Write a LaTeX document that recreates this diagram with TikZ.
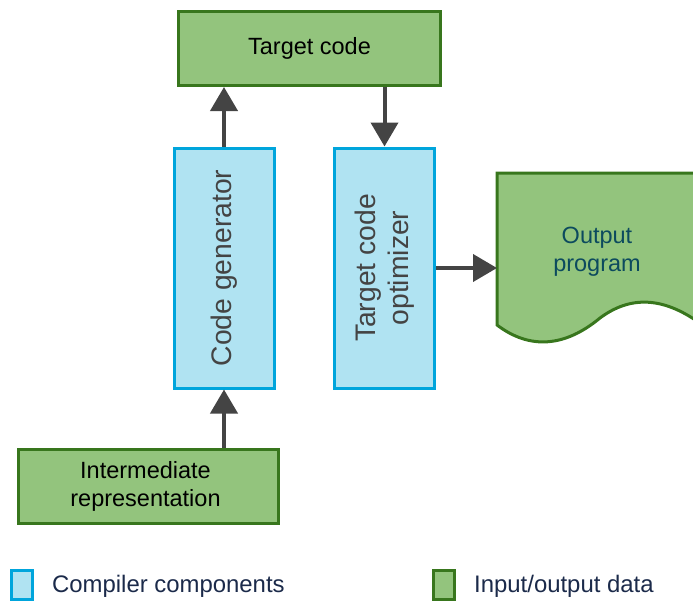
\documentclass[tikz,border=0pt]{standalone}
\usepackage{fontspec}
\setmainfont{Liberation Sans}
\usetikzlibrary{arrows.meta}
\definecolor{iofill}{HTML}{93C47D}
\definecolor{iodraw}{HTML}{38761D}
\definecolor{ccfill}{HTML}{B0E3F2}
\definecolor{ccdraw}{HTML}{00A5DC}
\definecolor{arrowgrey}{HTML}{444444}
\definecolor{legendtext}{HTML}{1B2A4A}
\definecolor{doctext}{HTML}{0C4A5E}
\tikzset{
  iobox/.style={draw=iodraw, fill=iofill, line width=3pt, inner sep=0pt,
    font=\fontsize{23.5}{27.5}\selectfont, text=black, align=center},
  ccbox/.style={draw=ccdraw, fill=ccfill, line width=3pt, inner sep=0pt,
    minimum width=240pt, minimum height=100pt, rotate=90,
    font=\fontsize{28.3}{33}\selectfont, text=arrowgrey, align=center},
  flow/.style={draw=arrowgrey, line width=4pt,
    -{Triangle[width=27pt,length=24pt]}},
  legendkey/.style={line width=3pt, minimum width=21pt, minimum height=29pt,
    inner sep=0pt},
  legendlabel/.style={anchor=west, inner sep=0pt, text=legendtext,
    font=\fontsize{23.9}{28}\selectfont}
}
\begin{document}
\begin{tikzpicture}[x=1pt, y=-1pt]
\useasboundingbox (0,0) rectangle (693,602);
\clip (0,0) rectangle (693,602);

% Target code
\node[iobox, minimum width=262pt, minimum height=74pt] (tc) at (309.5,48.5) {Target code};

% Compiler components (rotated boxes)
\node[ccbox] (cg) at (224,268) {Code generator};
\node[ccbox] (opt) at (384.5,268) {Target code\\optimizer};

% Intermediate representation
\node[iobox, minimum width=260pt, minimum height=74pt] (ir) at (148.5,486.5) {\hspace*{-6pt}Intermediate\\\hspace*{-6pt}representation};

% Output program document shape
\draw[draw=iodraw, fill=iofill, line width=3pt]
  (497,173) -- (705,173) -- (705,327)
  .. controls (670,300) and (635,292) .. (600,318)
  .. controls (565,347) and (530,350) .. (497,325) -- cycle;
\node[text=doctext, font=\fontsize{23.5}{28}\selectfont, align=center] (out) at (597,252) {Output\\program};
\coordinate (outin) at (497,268);

% Connectors
\draw[flow] (cg.east) -- (cg.east |- tc.south);
\draw[flow] (opt.east |- tc.south) -- (opt.east);
\draw[flow] (ir.north -| cg.west) -- (cg.west);
\draw[flow] (opt.south) -- (outin);

% Legend
\node[legendkey, draw=ccdraw, fill=ccfill] (lk1) at (22,585) {};
\node[legendlabel] (ll1) at (52,586) {Compiler components};
\node[legendkey, draw=iodraw, fill=iofill] (lk2) at (443.5,585) {};
\node[legendlabel] (ll2) at (474,586) {Input/output data};
\end{tikzpicture}
\end{document}
